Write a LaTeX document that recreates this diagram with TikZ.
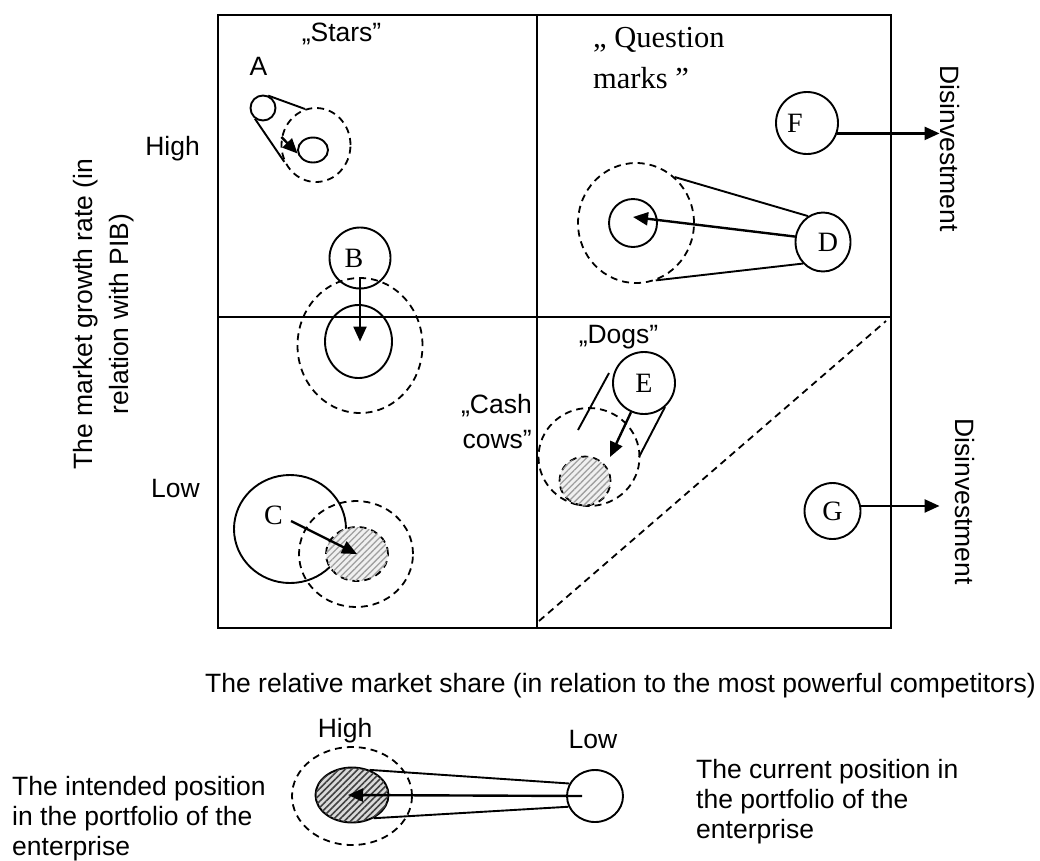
\documentclass[tikz,border=0pt]{standalone}
\usepackage{fontspec}
\setmainfont{Liberation Sans}
\newfontfamily\tms{Liberation Serif}
\usetikzlibrary{arrows.meta,shapes.geometric,patterns.meta}
\begin{document}
\begin{tikzpicture}[x=1pt,y=-1pt,
  frame/.style={line width=2.4pt},
  dsh/.style={line width=1.8pt, dash pattern=on 7pt off 5pt},
  ell/.style={ellipse, draw, line width=1.9pt, inner sep=0pt, font=\tms\fontsize{28}{32}\selectfont},
  dell/.style={ellipse, draw, dsh, inner sep=0pt},
  hatch/.style={fill=gray!12, postaction={pattern={Lines[angle=45,distance=4.5pt,line width=1.3pt]}, pattern color=gray!75}},
  hatchdark/.style={fill=gray!30, postaction={pattern={Lines[angle=45,distance=4.5pt,line width=1.6pt]}, pattern color=black!75}},
  arr/.style={line width=2.4pt, -{Triangle[length=15pt,width=13pt]}},
  tline/.style={line width=1.9pt},
  txt/.style={inner sep=0pt, font=\fontsize{26.5}{30}\selectfont},
]
\useasboundingbox (0,0) rectangle (1040,860);
% frame
\draw[frame] (218,15) rectangle (891,628);
\draw[frame] (537,15) -- (537,628);
\draw[frame] (218,317) -- (891,317);
\draw[dsh] (539,621) -- (886,321);
% texts
\node[txt, anchor=base] (stars) at (341.5,41) {„Stars”};
\node[txt, anchor=base] (Alab) at (258.5,75) {A};
\node[txt, anchor=base east] (high) at (200,155) {High};
\node[txt, anchor=base east] (low) at (200,497) {Low};
\node[txt, anchor=base, rotate=90] (ylab1) at (92,314) {The market growth rate (in};
\node[txt, anchor=base, rotate=90] (ylab2) at (128,314) {relation with PIB)};
\node[txt, anchor=base west, align=left, font=\tms\fontsize{30.5}{41}\selectfont] (qm) at (593,88) {„ Question\\marks ”};
\node[txt, anchor=base east, align=right, font=\fontsize{26.5}{35}\selectfont] (cash) at (532,448) {„Cash\\cows”};
\node[txt, anchor=base] (dogs) at (618.5,343) {„Dogs”};
\node[txt, anchor=base west] (xlab) at (205,692) {The relative market share (in relation to the most powerful competitors)};
\node[txt, anchor=base west, rotate=-90] (dis1) at (940,65) {Disinvestment};
\node[txt, anchor=base west, rotate=-90] (dis2) at (955,418) {Disinvestment};
% A
\node[ell, minimum width=25pt, minimum height=25pt] (Acur) at (263,108) {};
\node[dell, minimum width=69pt, minimum height=74pt] (Adash) at (316,145) {};
\node[ell, minimum width=30pt, minimum height=25pt] (Anew) at (313,150) {};
\draw[tline] (Acur.67) -- (Adash.107);
\draw[tline] (Acur.233) -- (Adash.208);
\draw[arr] (Adash.167) -- (Anew.193);
% B
\node[ell, minimum size=61pt] (Bcur) at (360,258) {B\hspace*{12pt}};
\node[dell, minimum width=125pt, minimum height=135pt] (Bdash) at (360,345.5) {};
\node[ell, minimum width=67pt, minimum height=73pt] (Bnew) at (358.5,341.5) {};
\draw[arr] (Bdash.north) -- (Bdash.north |- Bnew.center);
% C
\node[ell, minimum width=112pt, minimum height=108pt] (Ccur) at (290,529) {};
\node[dell, minimum width=114pt, minimum height=106pt] (Cdash) at (356,554) {};
\node[dell, hatch, minimum width=62pt, minimum height=54pt] (Cnew) at (357,554) {};
\node[inner sep=0pt, anchor=base, font=\tms\fontsize{28}{32}\selectfont] (Clab) at (273.5,524) {C};
\coordinate (Cstart) at (291,521);
\draw[arr] (Cstart) -- (Cnew.center);
% D
\node[ell, minimum width=55pt, minimum height=59pt] (Dcur) at (823,242) {\hspace*{10pt}D};
\node[dell, minimum width=116pt, minimum height=120pt] (Ddash) at (636,223) {};
\node[ell, minimum size=48pt] (Dnew) at (633,223) {};
\draw[tline] (Ddash.50) -- (Dcur.120);
\draw[tline] (Ddash.289) -- (Dcur.227);
\coordinate (Dtip) at (633,217);
\draw[arr] (Dcur.169) -- (Dtip);
% E
\node[ell, minimum size=62pt] (Ecur) at (644,383) {E};
\node[dell, minimum width=101pt, minimum height=98pt] (Edash) at (589,457) {};
\node[dell, hatch, minimum width=51pt, minimum height=49pt] (Enew) at (585,481) {};
\coordinate (E1a) at (609,373);
\coordinate (E1b) at (578,430);
\coordinate (E2a) at (665,407);
\coordinate (E2b) at (639,457);
\draw[tline] (E1a) -- (E1b);
\draw[tline] (E2a) -- (E2b);
\coordinate (Etip) at (610,457);
\draw[arr] (Ecur.246) -- (Etip);
% F
\node[ell, minimum size=62pt] (F) at (807,123) {F\hspace*{24pt}};
\draw[arr] (F.341) -- (F.341 -| dis1.south);
% G
\node[ell, minimum size=56pt] (G) at (832.5,511) {G};
\draw[arr, shorten >=15pt] (G.10) -- (G.10 -| dis2.south);
% legend
\node[txt, anchor=base] (lhigh) at (345,737) {High};
\node[txt, anchor=base] (llow) at (593,748) {Low};
\node[dell, minimum width=120pt, minimum height=98pt] (Ldash) at (352,796) {};
\node[ell, hatchdark, minimum width=73pt, minimum height=55pt] (Lnew) at (352,795) {};
\node[ell, minimum width=56pt, minimum height=52pt] (Lcur) at (595,796) {};
\draw[tline] (Lnew.55) -- (Lcur.154);
\draw[tline] (Lnew.313) -- (Lcur.202);
\draw[arr] ([xshift=-13pt]Lcur.center) -- ([xshift=-4pt]Lnew.center);
\node[txt, anchor=base west, align=left] (lleft) at (12,855) {The intended position\\in the portfolio of the\\enterprise};
\node[txt, anchor=base west, align=left] (lright) at (696,838) {The current position in\\the portfolio of the\\enterprise};
\end{tikzpicture}
\end{document}
